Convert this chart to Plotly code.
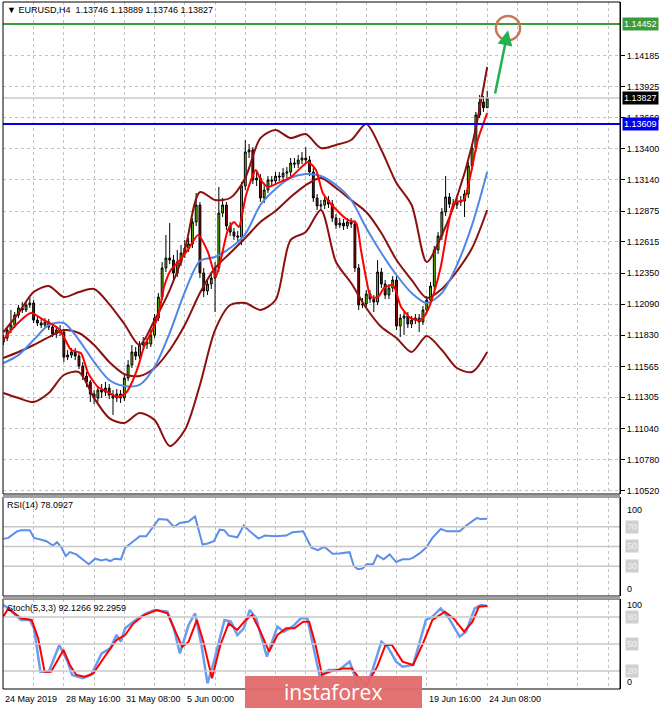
import plotly.graph_objects as go

# ---------------- DATA ----------------
bars = list(range(129))
open_ = [1.11771,1.11805,1.11872,1.11914,1.11999,1.12058,1.12041,1.12083,1.12100,1.11956,
         1.11931,1.11914,1.11940,1.11897,1.11838,1.11872,1.11855,1.11644,1.11661,1.11687,
         1.11653,1.11569,1.11484,1.11434,1.11333,1.11299,1.11366,1.11349,1.11383,1.11324,
         1.11299,1.11333,1.11299,1.11467,1.11577,1.11687,1.11653,1.11746,1.11771,1.11754,
         1.11830,1.11973,1.12150,1.12395,1.12479,1.12462,1.12353,1.12445,1.12521,1.12563,
         1.12597,1.12783,1.12926,1.12353,1.12201,1.12260,1.12310,1.12395,1.12858,1.12926,
         1.12749,1.12698,1.12665,1.12656,1.13086,1.13373,1.13390,1.13137,1.13153,1.12985,
         1.13052,1.13137,1.13128,1.13170,1.13162,1.13195,1.13204,1.13280,1.13271,1.13305,
         1.13322,1.13305,1.13204,1.12985,1.12917,1.12926,1.12968,1.12934,1.12816,1.12757,
         1.12774,1.12749,1.12783,1.12766,1.12395,1.12083,1.12091,1.12176,1.12133,1.12108,
         1.12361,1.12260,1.12167,1.12226,1.12294,1.11906,1.11973,1.11990,1.11923,1.11956,
         1.11973,1.11940,1.12041,1.12125,1.12243,1.12547,1.12665,1.12867,1.12993,1.12934,
         1.12926,1.12951,1.12960,1.13019,1.13255,1.13406,1.13685,1.13794,1.13746]
high = [1.11830,1.11897,1.12041,1.12024,1.12083,1.12108,1.12108,1.12150,1.12125,1.11990,
        1.11965,1.11973,1.11965,1.11923,1.11906,1.11914,1.11872,1.11703,1.11720,1.11720,
        1.11687,1.11602,1.11518,1.11451,1.11366,1.11400,1.11417,1.11434,1.11417,1.11366,
        1.11375,1.11366,1.11493,1.11619,1.11746,1.11729,1.11779,1.11813,1.11805,1.11872,
        1.12007,1.12184,1.12445,1.12673,1.12774,1.12504,1.12547,1.12589,1.12631,1.12648,
        1.12816,1.13027,1.12951,1.12395,1.12294,1.12361,1.12445,1.13078,1.12985,1.12951,
        1.12783,1.12732,1.12707,1.13120,1.13474,1.13440,1.13414,1.13204,1.13187,1.13095,
        1.13170,1.13170,1.13204,1.13204,1.13238,1.13246,1.13322,1.13322,1.13348,1.13373,
        1.13414,1.13339,1.13238,1.13019,1.12968,1.13010,1.13002,1.12968,1.12850,1.12816,
        1.12808,1.12816,1.12816,1.12799,1.12428,1.12142,1.12209,1.12209,1.12167,1.12462,
        1.12395,1.12294,1.12260,1.12327,1.12327,1.12007,1.12024,1.12024,1.11990,1.12007,
        1.12007,1.12075,1.12159,1.12277,1.12580,1.12698,1.12901,1.13170,1.13027,1.12977,
        1.12985,1.13002,1.13052,1.13288,1.13440,1.13710,1.13853,1.13845,1.13889]
low = [1.11746,1.11779,1.11847,1.11889,1.11973,1.12015,1.12024,1.12058,1.11931,1.11906,
       1.11889,1.11889,1.11872,1.11813,1.11805,1.11822,1.11602,1.11619,1.11636,1.11619,
       1.11543,1.11451,1.11392,1.11265,1.11248,1.11265,1.11299,1.11316,1.11290,1.11156,
       1.11265,1.11257,1.11274,1.11442,1.11552,1.11619,1.11628,1.11704,1.11712,1.11729,
       1.11805,1.11948,1.12125,1.12361,1.12428,1.12294,1.12319,1.12412,1.12479,1.12530,
       1.12563,1.12749,1.12310,1.12150,1.12167,1.12218,1.12024,1.12361,1.12825,1.12715,
       1.12665,1.12631,1.12614,1.12589,1.13052,1.13322,1.13103,1.13086,1.12951,1.12943,
       1.13027,1.13086,1.13095,1.13128,1.13128,1.13153,1.13170,1.13238,1.13238,1.13271,
       1.13271,1.13170,1.12951,1.12884,1.12884,1.12892,1.12901,1.12783,1.12724,1.12732,
       1.12715,1.12724,1.12732,1.12361,1.12041,1.12058,1.12066,1.12100,1.12024,1.12083,
       1.12226,1.12133,1.12133,1.12192,1.11872,1.11813,1.11830,1.11889,1.11889,1.11923,
       1.11855,1.11914,1.12007,1.12091,1.12209,1.12513,1.12631,1.12833,1.12901,1.12892,
       1.12892,1.12918,1.12825,1.12985,1.13221,1.13373,1.13659,1.13710,1.13746]
close = [1.11805,1.11872,1.11914,1.11999,1.12058,1.12041,1.12083,1.12100,1.11956,1.11931,
         1.11914,1.11940,1.11897,1.11838,1.11872,1.11855,1.11644,1.11661,1.11687,1.11653,
         1.11569,1.11484,1.11434,1.11333,1.11299,1.11366,1.11349,1.11383,1.11324,1.11299,
         1.11333,1.11299,1.11467,1.11577,1.11687,1.11653,1.11746,1.11771,1.11754,1.11830,
         1.11973,1.12150,1.12395,1.12479,1.12462,1.12353,1.12445,1.12521,1.12563,1.12597,
         1.12783,1.12926,1.12353,1.12201,1.12260,1.12310,1.12395,1.12858,1.12926,1.12749,
         1.12698,1.12665,1.12656,1.13086,1.13373,1.13390,1.13137,1.13153,1.12985,1.13052,
         1.13137,1.13128,1.13170,1.13162,1.13195,1.13204,1.13280,1.13271,1.13305,1.13322,
         1.13305,1.13204,1.12985,1.12917,1.12926,1.12968,1.12934,1.12816,1.12757,1.12774,
         1.12749,1.12783,1.12766,1.12395,1.12083,1.12091,1.12176,1.12133,1.12108,1.12361,
         1.12260,1.12167,1.12226,1.12294,1.11906,1.11973,1.11990,1.11923,1.11956,1.11973,
         1.11940,1.12041,1.12125,1.12243,1.12547,1.12665,1.12867,1.12993,1.12934,1.12926,
         1.12951,1.12960,1.13019,1.13255,1.13406,1.13685,1.13794,1.13746,1.13827]

band_bars = list(range(0, 129, 4))
bb_upper = [1.11855,1.12015,1.12192,1.12243,1.12150,1.12192,1.12218,1.12091,1.11923,1.11746,
            1.11956,1.12209,1.12547,1.13035,1.12968,1.12985,1.13154,1.13490,1.13558,1.13490,
            1.13524,1.13406,1.13432,1.13474,1.13609,1.13389,1.13111,1.12926,1.12445,1.12673,
            1.12993,1.13432,1.14089]
bb_mid = [1.11636,1.11687,1.11746,1.11813,1.11872,1.11847,1.11746,1.11603,1.11501,1.11484,
          1.11552,1.11704,1.11914,1.12184,1.12395,1.12521,1.12648,1.12783,1.12876,1.12993,
          1.13094,1.13154,1.13069,1.12968,1.12867,1.12690,1.12462,1.12294,1.12142,1.12218,
          1.12369,1.12563,1.12884]
bb_lower = [1.11341,1.11299,1.11265,1.11341,1.11493,1.11518,1.11299,1.11130,1.11088,1.11173,
            1.11113,1.10894,1.11029,1.11409,1.11872,1.12083,1.12100,1.12041,1.12125,1.12631,
            1.12698,1.12884,1.12445,1.12268,1.12058,1.11897,1.11805,1.11687,1.11821,1.11704,
            1.11552,1.11518,1.11687]
ma_slow = [1.11594,1.11661,1.11788,1.11914,1.11931,1.11788,1.11603,1.11451,1.11400,1.11409,
           1.11560,1.11847,1.12192,1.12454,1.12488,1.12563,1.12681,1.12926,1.13061,1.13154,
           1.13187,1.13170,1.13094,1.12968,1.12732,1.12521,1.12336,1.12184,1.12100,1.12184,
           1.12420,1.12758,1.13204]
ma_fast_bars = [0,2.8,7.3,10.7,14.4,16,17.9,20.5,22.4,25,27.6,30.3,32.4,33.7,35.6,37.2,39,40.9,
                42.5,44.3,46.2,48.8,51.5,54.1,56.2,57.5,59.4,61,62.3,64.2,66.8,68.1,70,72.6,
                76.1,80.6,82.7,84.5,87.4,91.1,93.3,94.6,95.9,97.2,99.1,100.7,103.1,105.2,107.8,
                110.4,112.3,113.9,115.7,117.6,119.2,121.8,123.7,125.5,128]
ma_fast = [1.11788,1.11897,1.12015,1.11956,1.11889,1.11813,1.11704,1.11678,1.11510,1.11392,
           1.11349,1.11307,1.11341,1.11409,1.11560,1.11729,1.11847,1.11982,1.12235,1.12378,
           1.12445,1.12547,1.12673,1.12530,1.12319,1.12462,1.12715,1.12783,1.12741,1.13010,
           1.13221,1.13137,1.13078,1.13111,1.13162,1.13288,1.13221,1.13027,1.12909,1.12800,
           1.12775,1.12547,1.12319,1.12150,1.12150,1.12226,1.12251,1.12066,1.11973,1.11956,
           1.12041,1.12184,1.12403,1.12741,1.12943,1.12968,1.13196,1.13474,1.13701]

rsi_bars = [0,1.3,3.6,4.7,7,8.1,9.8,11.4,13.1,14.2,15.4,16.5,17.6,19.3,21.5,22.6,24.3,26,27.1,
            28.3,29.4,31.1,32.2,33.9,36.1,37.8,39.5,41.1,43.4,45.1,46.7,49,50.7,52.7,54,55.7,
            57.2,58.5,59.6,61.9,63.6,65.2,67.5,69.2,72,74.8,76.5,79.3,81.5,83.2,84.9,87.1,
            88.8,91.6,92.7,93.8,95,96.1,97.8,98.9,100.6,102.2,103.9,105.6,107.3,108.4,110.1,
            111.8,113.5,115.7,117.4,120.7,122.4,125.2,126.3,128]
rsi_vals = [57.7,58.7,65.3,66.3,66.3,58.7,57,55.3,51,54.3,48.7,40.3,44.3,42,35.3,32,37.7,36,37,
            35.3,37.7,37,48.7,53.7,60.3,60.3,68.7,77.7,77,69.7,73.7,75.3,80.3,52,53,55.3,
            67,66.3,61,59.3,71.3,65.3,58,61,60.3,61,64.3,65.3,48.7,46.3,49.7,42.7,
            43,44.3,30.3,27,27.7,32,32,41.3,37,42,34.3,37,37,38.7,43,
            48.7,58.7,67.7,65.3,65.3,71,78.7,77.7,78.09]

stoch_k_bars = [0,1.3,3.6,4.7,7,8.1,9.8,12,14.8,17,18.2,21,23.2,26,28.3,29.9,31.1,32.2,35,37.8,
                40,43.4,45.1,46.7,49,50.7,52.4,54,55.7,58.5,60.2,61.9,63.6,65.2,66.9,69.2,69.7,
                72.5,74.2,76.5,78.7,80.4,82.1,83.7,86,88.8,91.6,92.7,93.8,96.1,97.8,100,101.7,
                103.9,105.6,108.4,111.8,113.5,115.7,117.9,120.7,122.4,124.7,126.3,128]
stoch_k = [93.3,89.6,80.4,76.7,76.7,67.4,19.3,19.3,48.9,30.4,15.6,11.9,15.6,39.6,45.2,60,52.6,
           67.4,76.7,84.1,87.8,85.9,67.4,39.6,71.1,84.1,48.9,6.3,30.4,76.7,74.8,60,67.4,87.8,
           78.5,41.5,35.9,69.3,63.7,69.3,78.5,78.5,45.2,13.7,21.1,21.1,30.4,17.4,4.4,2.6,22.9,
           52.6,46.7,30.4,24.8,26.7,76.7,80.4,89.6,78.5,58.1,63.7,89.6,93.3,92.13]
stoch_d_bars = [0,1.3,4.7,7.5,9.2,10.9,12.6,15.9,17.6,19.3,21.5,23.8,27.1,29.9,32.2,34.4,37.2,
                40.6,43.4,45.6,47.3,49,51.2,52.9,55.2,57.4,59.6,61.9,64.1,65.8,68,70.3,72.5,
                74.8,77,79.3,80.9,82.6,84.3,86.5,89.9,92.2,93.8,96.1,98.9,101.1,102.8,105.6,
                108.4,111.2,113.5,116.8,119.1,121.9,124.1,125.8,128]
stoch_d = [80.4,89.6,78.5,76.7,56.3,19.3,19.3,43.4,26.7,15.6,13.7,17.4,37.8,54.4,60,72.9,82.2,
           87.8,84.1,63.7,46.7,52.6,76.7,52.6,11.9,48.9,72.9,65.6,76.7,82.2,63.7,41.5,60,
           67.4,67.4,74.8,74.8,48.9,15.6,19.3,22.9,22.9,13.7,4.4,24.8,48.9,48.9,30.4,
           26.7,52.6,76.7,85.9,78.5,63.7,74.8,91.5,92.3]

price_ticks = [1.10520,1.10780,1.11040,1.11305,1.11565,1.11830,1.12090,1.12350,
               1.12615,1.12875,1.13140,1.13400,1.13660,1.13925,1.14185]
# date labels visible in the picture (the middle ones are hidden by the watermark)
date_tick_bars = [0,16,32,48,112,128]
date_tick_labels = ["24 May 2019","28 May 16:00","31 May 08:00","5 Jun 00:00",
                    "19 Jun 16:00","24 Jun 08:00"]
resistance_level = 1.14452
support_level = 1.13609
last_price = 1.13827
header_ohlc = "1.13746 1.13889 1.13746 1.13827"
rsi_last = "78.0927"
stoch_last = "92.1266 92.2959"
target_bar, target_price = 133.5, 1.14418
arrow_from_bar, arrow_from_price = 130.0, 1.13853

# ---------------- FIGURE ----------------
FONT = "Liberation Sans"
GRID = "#c3c3c3"
DASH = "3px,3px"
fig = go.Figure()

fig.add_trace(go.Candlestick(
    x=bars, open=open_, high=high, low=low, close=close,
    increasing=dict(fillcolor="#66cc00", line=dict(color="#000000", width=1)),
    decreasing=dict(fillcolor="#990000", line=dict(color="#000000", width=1)),
    whiskerwidth=0, showlegend=False, xaxis="x", yaxis="y"))

band_style = dict(color="#8b1010", width=2, shape="spline", smoothing=0.8)
for vals in (bb_upper, bb_mid, bb_lower):
    fig.add_trace(go.Scatter(x=band_bars, y=vals, mode="lines", line=band_style,
                             showlegend=False, xaxis="x", yaxis="y", hoverinfo="skip"))
fig.add_trace(go.Scatter(x=band_bars, y=ma_slow, mode="lines",
                         line=dict(color="#4f86e8", width=2, shape="spline", smoothing=0.8),
                         showlegend=False, xaxis="x", yaxis="y"))
fig.add_trace(go.Scatter(x=ma_fast_bars, y=ma_fast, mode="lines",
                         line=dict(color="#ff0000", width=2, shape="spline", smoothing=0.6),
                         showlegend=False, xaxis="x", yaxis="y"))

fig.add_trace(go.Scatter(x=rsi_bars, y=rsi_vals, mode="lines",
                         line=dict(color="#5b8fea", width=2),
                         showlegend=False, xaxis="x2", yaxis="y2"))
fig.add_trace(go.Scatter(x=stoch_k_bars, y=stoch_k, mode="lines",
                         line=dict(color="#6a9cf0", width=2.5),
                         showlegend=False, xaxis="x3", yaxis="y3"))
fig.add_trace(go.Scatter(x=stoch_d_bars, y=stoch_d, mode="lines",
                         line=dict(color="#ff0000", width=2),
                         showlegend=False, xaxis="x3", yaxis="y3"))

XR = [-0.1, 163.13]
main_dom = [0.28384, 1.0]
rsi_dom = [0.13537, 0.27948]
sto_dom = [0.0, 0.13100]

xcommon = dict(range=XR, showgrid=True, gridcolor=GRID, griddash=DASH, gridwidth=1,
               tick0=0, dtick=8, showticklabels=False, zeroline=False, showline=False,
               ticks="")
fig.update_layout(
    width=665, height=708,
    margin=dict(l=3, r=45, t=2, b=19),
    paper_bgcolor="white", plot_bgcolor="white",
    font=dict(family=FONT, size=9, color="#000000"),
    xaxis=dict(**xcommon, anchor="y", rangeslider=dict(visible=False)),
    xaxis2=dict(**xcommon, anchor="y2", matches="x"),
    xaxis3=dict(**xcommon, anchor="y3", matches="x"),
    yaxis=dict(domain=main_dom, range=[1.10490, 1.14637], side="right",
               tickvals=price_ticks, ticktext=["%.5f" % v for v in price_ticks],
               showgrid=True, gridcolor=GRID, griddash=DASH, zeroline=False,
               ticks="outside", ticklen=4, tickcolor="#000", showline=True,
               linecolor="#000", linewidth=1, tickfont=dict(size=9, family=FONT)),
    yaxis2=dict(domain=rsi_dom, range=[0, 100], side="right", showgrid=False,
                showticklabels=False, zeroline=False, showline=True, linecolor="#000"),
    yaxis3=dict(domain=sto_dom, range=[0, 100], side="right", showgrid=False,
                showticklabels=False, zeroline=False, showline=True, linecolor="#000"),
    showlegend=False,
)

shapes = []
shapes.append(dict(type="line", xref="x domain", yref="y", x0=0, x1=1, y0=last_price, y1=last_price,
                   line=dict(color="#c8c8c8", width=1.5)))
shapes.append(dict(type="line", xref="x domain", yref="y", x0=0, x1=1, y0=resistance_level,
                   y1=resistance_level, line=dict(color="#3d9a3d", width=2)))
shapes.append(dict(type="line", xref="x domain", yref="y", x0=0, x1=1, y0=support_level,
                   y1=support_level, line=dict(color="#0000ee", width=2)))
for lv in (70, 50, 30):
    shapes.append(dict(type="line", xref="x2 domain", yref="y2", x0=0, x1=1, y0=lv, y1=lv,
                       line=dict(color="#c8c8c8", width=1.5)))
for lv in (80, 50, 20):
    shapes.append(dict(type="line", xref="x3 domain", yref="y3", x0=0, x1=1, y0=lv, y1=lv,
                       line=dict(color="#c8c8c8", width=1.5)))
for xr, yr in (("x domain", "y domain"), ("x2 domain", "y2 domain"), ("x3 domain", "y3 domain")):
    shapes.append(dict(type="rect", xref=xr, yref=yr, x0=0, x1=1, y0=0, y1=1,
                       line=dict(color="#000000", width=1), layer="above"))
for yb in (0.2801, 0.1325):
    shapes.append(dict(type="line", xref="paper", yref="paper", x0=0, x1=1, y0=yb, y1=yb,
                       line=dict(color="#a0a0a0", width=3)))
shapes.append(dict(type="circle", xref="x", yref="y",
                   x0=target_bar - 3.2, x1=target_bar + 3.2,
                   y0=target_price - 0.00102, y1=target_price + 0.00102,
                   line=dict(color="#c47a55", width=2.5)))
shapes.append(dict(type="rect", xref="paper", yref="paper", x0=0.3922, x1=0.6791,
                   y0=-0.0277, y1=0.0189, fillcolor="#e26b6b", line=dict(width=0),
                   layer="above", opacity=0.95))
fig.update_layout(shapes=shapes)

ann = []
ann.append(dict(xref="paper", yref="paper", x=0.003, y=0.9985, xanchor="left", yanchor="top",
                text="▼ EURUSD,H4  " + header_ohlc, showarrow=False,
                font=dict(size=9, family=FONT)))
ann.append(dict(xref="paper", yref="y2 domain", x=0.003, y=0.985, xanchor="left", yanchor="top",
                text="RSI(14) " + rsi_last, showarrow=False, font=dict(size=9, family=FONT)))
ann.append(dict(xref="paper", yref="y3 domain", x=0.003, y=0.98, xanchor="left", yanchor="top",
                text="Stoch(5,3,3) " + stoch_last, showarrow=False, font=dict(size=9, family=FONT)))
for price, bg in ((resistance_level, "#3d9a3d"), (last_price, "#000000"), (support_level, "#0000ee")):
    ann.append(dict(xref="paper", yref="y", x=1.003, y=price, xanchor="left", yanchor="middle",
                    text="%.5f" % price, showarrow=False, bgcolor=bg, borderpad=1,
                    font=dict(size=9, family=FONT, color="white")))
for yv, txt, boxed in ((0.87, "100", False), (0.70, "70", True), (0.50, "50", True),
                       (0.30, "30", True), (0.07, "0", False)):
    ann.append(dict(xref="paper", yref="y2 domain", x=1.008, y=yv, xanchor="left",
                    yanchor="middle", text=txt, showarrow=False,
                    bgcolor="#cfcfcf" if boxed else None,
                    font=dict(size=9, family=FONT, color="#f4f4f4" if boxed else "#000")))
for yv, txt, boxed in ((0.93, "100", False), (0.80, "80", True), (0.50, "50", True),
                       (0.20, "20", True), (0.08, "0", False)):
    ann.append(dict(xref="paper", yref="y3 domain", x=1.008, y=yv, xanchor="left",
                    yanchor="middle", text=txt, showarrow=False,
                    bgcolor="#cfcfcf" if boxed else None,
                    font=dict(size=9, family=FONT, color="#f4f4f4" if boxed else "#000")))
for b, lab in zip(date_tick_bars, date_tick_labels):
    ann.append(dict(xref="x3", yref="paper", x=b, y=-0.004, xanchor="left", yanchor="top",
                    text=lab, showarrow=False, font=dict(size=9, family=FONT)))
ann.append(dict(xref="x", yref="y", x=target_bar, y=target_price - 0.0002,
                axref="x", ayref="y", ax=arrow_from_bar, ay=arrow_from_price,
                showarrow=True, arrowhead=2, arrowsize=1.2, arrowwidth=2.5,
                arrowcolor="#22b14c", text=""))
ann.append(dict(xref="paper", yref="paper", x=0.5356, y=-0.0044, xanchor="center",
                yanchor="middle", text="instaforex", showarrow=False,
                font=dict(size=21, family="Open Sans", color="white")))
fig.update_layout(annotations=ann)

fig.write_html("out.html", config={"displayModeBar": False},
               post_script="document.body.style.margin='0';document.body.style.padding='0';")
